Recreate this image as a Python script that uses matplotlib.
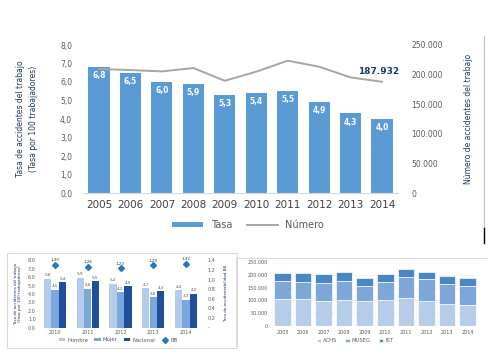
import matplotlib.pyplot as plt
import matplotlib.lines as mlines
import numpy as np

# ---- data ----
years = ['2005', '2006', '2007', '2008', '2009', '2010', '2011', '2012', '2013', '2014']
tasa = [6.8, 6.5, 6.0, 5.9, 5.3, 5.4, 5.5, 4.9, 4.3, 4.0]
numero = [209400, 207700, 205400, 211100, 189600, 204900, 223500, 213300, 195300, 187932]

sex_years = ['2010', '2011', '2012', '2013', '2014']
hombre = [5.8, 5.9, 5.2, 4.7, 4.4]
mujer = [4.5, 4.6, 4.2, 3.6, 3.3]
nacional = [5.4, 5.5, 4.9, 4.3, 4.0]
bb = [1.30, 1.26, 1.23, 1.29, 1.32]

achs = [106000, 107000, 99000, 103000, 98000, 103000, 110000, 99000, 87000, 80000]
museg = [69000, 65000, 69000, 72000, 59000, 68000, 83000, 85000, 78000, 79000]
ist = [34000, 36000, 37000, 36000, 33000, 34000, 30000, 29000, 30000, 29000]

W, H = 502, 363
fig = plt.figure(figsize=(W / 100, H / 100), dpi=100)
narrow = ['Liberation Sans Narrow', 'DejaVu Sans']
gray_txt = '#595959'
navy = '#1f3864'


def box(x0, y0, x1, y1):
    # pixel box -> figure fraction rect
    return [x0 / W, 1 - y1 / H, (x1 - x0) / W, (y1 - y0) / H]


def thousands(v):
    return '{:,.0f}'.format(v).replace(',', '.')


# ---- main chart ----
ax = fig.add_axes(box(83.3, 45, 397.7, 193))
x = np.arange(len(years))
ax.bar(x, tasa, width=0.67, color='#5b9bd5', label='Tasa', zorder=2)
for xi, v in zip(x, tasa):
    ax.text(xi, v - 0.22, ('%.1f' % v).replace('.', ','), ha='center', va='top',
            color='white', fontsize=5.5, fontweight='bold')
ax.set_xlim(-0.5, 9.5)
ax.set_ylim(0, 8)
ax.set_yticks(np.arange(0, 9, 1))
ax.set_yticklabels([('%.1f' % t).replace('.', ',') for t in np.arange(0, 9, 1)])
ax.set_xticks(x)
ax.set_xticklabels(years, fontsize=7.5, color='#404040')
ax.tick_params(axis='y', length=0, labelsize=5.5, labelcolor=gray_txt, pad=8)
ax.tick_params(axis='x', length=0, pad=5)
for s in ['top', 'right', 'left']:
    ax.spines[s].set_visible(False)
ax.spines['bottom'].set_color('#d9d9d9')
ax.set_ylabel('Tasa de accidentes del trabajo\n(Tasa por 100 trabajadores)',
              fontsize=5.5, color=navy, family=narrow, linespacing=1.6)
ax.yaxis.set_label_coords(-0.145, 0.5)

ax2 = ax.twinx()
ax2.plot(x, numero, color='#a5a5a5', lw=1.4, label='Número')
ax2.set_ylim(0, 250000)
ax2.set_yticks(np.arange(0, 250001, 50000))
ax2.set_yticklabels([thousands(t) for t in np.arange(0, 250001, 50000)])
ax2.tick_params(axis='y', length=0, labelsize=5.5, labelcolor=gray_txt, pad=10)
for s in ['top', 'right', 'left', 'bottom']:
    ax2.spines[s].set_visible(False)
ax2.text(x[-1] - 0.1, numero[-1] + 9000, thousands(numero[-1]), ha='center', va='bottom',
         fontsize=6.5, fontweight='bold', color=navy)
ax2.set_ylabel('Número de accidentes del trabajo', fontsize=5.5, color=navy, family=narrow)
ax2.yaxis.set_label_coords(1.21, 0.5)

h1, l1 = ax.get_legend_handles_labels()
h2, l2 = ax2.get_legend_handles_labels()
fig.legend(h1 + h2, l1 + l2, loc='center', bbox_to_anchor=(248 / W, 1 - 225 / H),
           ncol=2, frameon=False, fontsize=7, labelcolor=gray_txt,
           handlelength=3.2, handleheight=0.45, columnspacing=1.5)

# frame lines at the right
fig.add_artist(mlines.Line2D([484 / W, 484 / W], [1 - 36 / H, 1 - 228 / H], color='#bfbfbf', lw=0.8))
fig.add_artist(mlines.Line2D([484 / W, 484 / W], [1 - 228 / H, 1 - 243 / H], color='black', lw=1))

# ---- bottom left: by sex ----
fig.add_artist(plt.Rectangle((7 / W, 1 - 348 / H), 230 / W, 95 / H, fill=False,
                             edgecolor='#d9d9d9', lw=0.8, transform=fig.transFigure))
bx = fig.add_axes(box(38.6, 260, 202.4, 327.5))
xs = np.arange(len(sex_years))
bw = 0.22
bx.bar(xs - 0.23, hombre, width=bw, color='#b4cbe9', label='Hombre')
bx.bar(xs, mujer, width=bw, color='#7aa7dc', label='Mujer')
bx.bar(xs + 0.23, nacional, width=bw, color='#1f4e9a', label='Nacional')
for vals, off in [(hombre, -0.23), (mujer, 0), (nacional, 0.23)]:
    for xi, v in zip(xs, vals):
        bx.text(xi + off, v + 0.15, ('%.1f' % v).replace('.', ','), ha='center',
                va='bottom', fontsize=3, color=gray_txt)
bx.set_xlim(-0.5, 4.5)
bx.set_ylim(0, 8)
bx.set_yticks(np.arange(0, 9, 1))
bx.set_yticklabels([('%.1f' % t).replace('.', ',') for t in np.arange(0, 9, 1)])
bx.set_xticks(xs)
bx.set_xticklabels(sex_years)
bx.tick_params(length=0, labelsize=3.5, labelcolor=gray_txt, pad=2)
for s in ['top', 'right', 'left', 'bottom']:
    bx.spines[s].set_visible(False)
bx.set_ylabel('Tasa de accidentes del trabajo\n(Tasa por 100 trabajadores)',
              fontsize=3, color=navy)
bx.yaxis.set_label_coords(-0.10, 0.5)
bx2 = bx.twinx()
bx2.plot(xs, bb, linestyle='none', marker='D', markersize=3, color='#2e75b6', label='BB')
for xi, v in zip(xs, bb):
    bx2.text(xi, v + 0.05, ('%.2f' % v).replace('.', ','), ha='center', va='bottom',
             fontsize=3, color=navy)
bx2.set_ylim(0, 1.4)
bx2.set_yticks(np.arange(0, 1.41, 0.2))
bx2.set_yticklabels(['-'] + [('%.1f' % t).replace('.', ',') for t in np.arange(0.2, 1.41, 0.2)])
bx2.tick_params(length=0, labelsize=3.5, labelcolor=gray_txt, pad=4)
for s in ['top', 'right', 'left', 'bottom']:
    bx2.spines[s].set_visible(False)
bx2.set_ylabel('Tasa de accidentabilidad BB', fontsize=3, color=navy)
bx2.yaxis.set_label_coords(1.13, 0.5)
hb1, lb1 = bx.get_legend_handles_labels()
hb2, lb2 = bx2.get_legend_handles_labels()
fig.legend(hb1 + hb2, lb1 + lb2, loc='center', bbox_to_anchor=(118 / W, 1 - 340 / H),
           ncol=4, frameon=False, fontsize=3.8, labelcolor=gray_txt,
           handlelength=1.2, handleheight=0.5, columnspacing=1.2, handletextpad=0.4)

# ---- bottom right: by mutual ----
fig.add_artist(mlines.Line2D([236 / W, 487 / W], [1 - 258 / H, 1 - 258 / H], color='#d9d9d9', lw=0.8))
fig.add_artist(mlines.Line2D([236 / W, 236 / W], [1 - 258 / H, 1 - 346 / H], color='#d9d9d9', lw=0.8))
cx = fig.add_axes(box(272.2, 262.5, 477.8, 325.7))
xm = np.arange(len(years))
a = np.array(achs)
m = np.array(museg)
cx.bar(xm, a, width=0.8, color='#b7cce8', edgecolor='white', lw=0.5, label='ACHS')
cx.bar(xm, m, width=0.8, bottom=a, color='#7ea7d9', edgecolor='white', lw=0.5, label='MUSEG')
cx.bar(xm, ist, width=0.8, bottom=a + m, color='#4a86c7', edgecolor='white', lw=0.5, label='IST')
cx.set_xlim(-0.5, 9.5)
cx.set_ylim(0, 250000)
cx.set_yticks(np.arange(0, 250001, 50000))
cx.set_yticklabels([thousands(t) for t in np.arange(0, 250001, 50000)])
cx.set_xticks(xm)
cx.set_xticklabels(years)
cx.tick_params(length=0, labelsize=3.5, labelcolor=gray_txt, pad=3)
cx.grid(axis='y', color='#eeeeee', lw=0.5)
cx.set_axisbelow(True)
for s in ['top', 'right', 'left', 'bottom']:
    cx.spines[s].set_visible(False)
cx.legend(loc='center', bbox_to_anchor=(355 / W, 1 - 341 / H), bbox_transform=fig.transFigure,
          ncol=3, frameon=False, fontsize=3.8, labelcolor=gray_txt,
          handlelength=0.8, handleheight=0.6, columnspacing=1.5, handletextpad=0.4)

fig.savefig('out.png', dpi=100)
